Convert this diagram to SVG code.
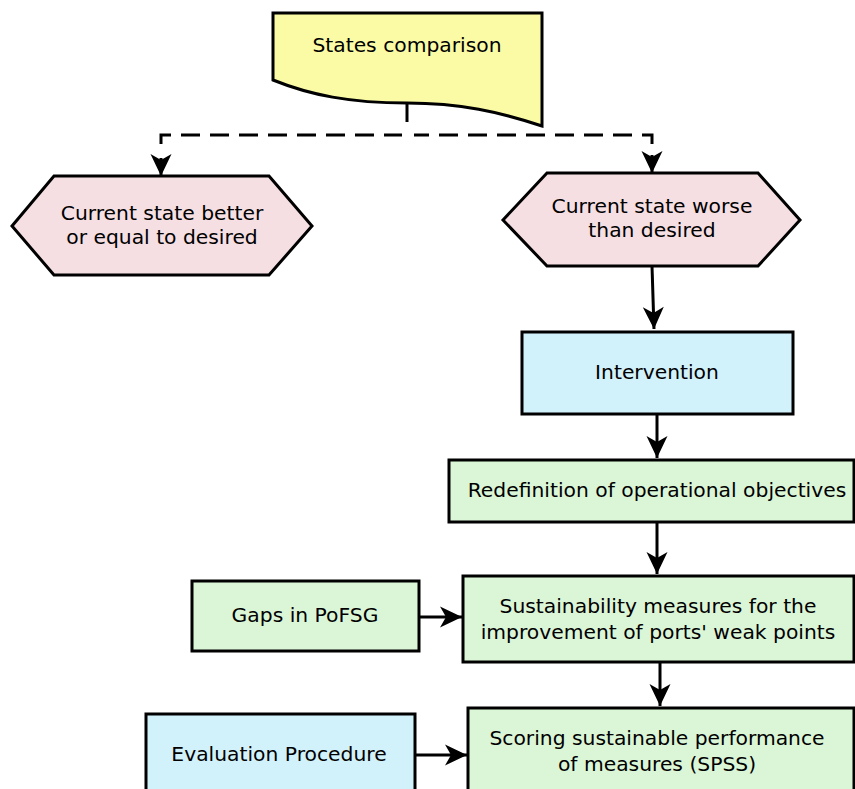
<svg xmlns="http://www.w3.org/2000/svg" width="855" height="789" viewBox="0 0 855 789">
<style>
.s{stroke:#000;stroke-width:3;}
.t{font-family:"DejaVu Sans",sans-serif;font-size:20.3px;fill:#000;text-anchor:middle;}
.y{fill:#fbfba6;}
.p{fill:#f5dfe2;}
.b{fill:#d2f2fb;}
.g{fill:#dbf6d7;}
.c{fill:none;stroke:#000;stroke-width:3;}
.d{stroke-dasharray:19,10;}
</style>
<defs>
<marker id="ah" markerUnits="userSpaceOnUse" markerWidth="26" markerHeight="26" viewBox="-24 -12 26 24" refX="0" refY="0" orient="auto">
<path d="M0,0 L-22,-10.5 L-16,0 L-22,10.5 Z" fill="#000"/>
</marker>
</defs>
<rect width="855" height="789" fill="#fff"/>
<g id="connectors">
<path class="c" d="M407,103 V122"/>
<path class="c d" d="M161,144 V135 H402"/>
<path class="c d" d="M652,144 V135 H414"/>
<path class="c" d="M161,158 V176" marker-end="url(#ah)"/>
<path class="c" d="M652,155 V173" marker-end="url(#ah)"/>
<path class="c" d="M652,266 L654,329" marker-end="url(#ah)"/>
<path class="c" d="M657,414 V458" marker-end="url(#ah)"/>
<path class="c" d="M657,522 V574" marker-end="url(#ah)"/>
<path class="c" d="M660,662 V706" marker-end="url(#ah)"/>
<path class="c" d="M419,617 H462" marker-end="url(#ah)"/>
<path class="c" d="M415,755 H467" marker-end="url(#ah)"/>
</g>
<g id="states">
<path class="s y" d="M273,13 H542 V126 C500,112 460,103 407,103 C350,103 310,95 273,80 Z"/>
<text class="t" x="407" y="52">States comparison</text>
</g>
<g id="better">
<path class="s p" d="M12,226 L54,176 H269 L312,226 L269,275 H54 Z"/>
<text class="t" x="162" y="220">Current state better</text>
<text class="t" x="162" y="244">or equal to desired</text>
</g>
<g id="worse">
<path class="s p" d="M503,220 L547,173 H758 L800,220 L758,266 H547 Z"/>
<text class="t" x="652" y="213">Current state worse</text>
<text class="t" x="652" y="237">than desired</text>
</g>
<g id="intervention">
<rect class="s b" x="522" y="332" width="271" height="82"/>
<text class="t" x="657" y="379">Intervention</text>
</g>
<g id="redefinition">
<rect class="s g" x="449" y="460" width="405" height="62"/>
<text class="t" x="657" y="497">Redefinition of operational objectives</text>
</g>
<g id="gaps">
<rect class="s g" x="192" y="581" width="227" height="70"/>
<text class="t" x="305" y="622">Gaps in PoFSG</text>
</g>
<g id="measures">
<rect class="s g" x="463" y="576" width="391" height="86"/>
<text class="t" x="658" y="613">Sustainability measures for the</text>
<text class="t" x="658" y="639">improvement of ports' weak points</text>
</g>
<g id="evaluation">
<rect class="s b" x="146" y="714" width="269" height="90"/>
<text class="t" x="279" y="761">Evaluation Procedure</text>
</g>
<g id="scoring">
<rect class="s g" x="468" y="708" width="386" height="96"/>
<text class="t" x="657" y="745">Scoring sustainable performance</text>
<text class="t" x="657" y="771">of measures (SPSS)</text>
</g>
</svg>
